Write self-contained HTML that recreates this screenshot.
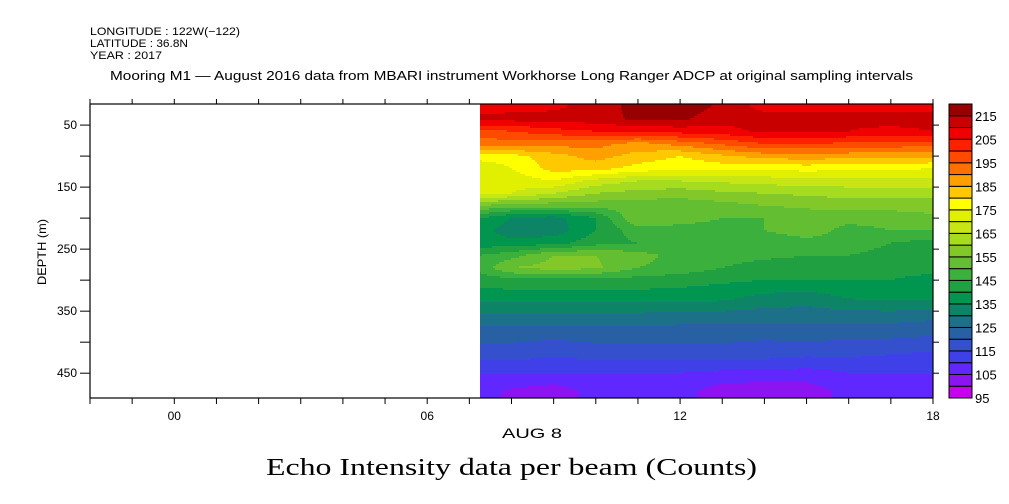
<!DOCTYPE html>
<html><head><meta charset="utf-8"><style>
html,body{margin:0;padding:0;background:#fff;}
body{width:1009px;height:504px;overflow:hidden;}
svg{display:block;}
</style></head><body>
<svg id="chart" width="1009" height="504" viewBox="0 0 1009 504" xmlns="http://www.w3.org/2000/svg" font-family="Liberation Sans, sans-serif">
<g font-size="11" fill="#000">
<text x="90" y="35" textLength="150" lengthAdjust="spacingAndGlyphs">LONGITUDE : 122W(−122)</text>
<text x="90" y="47" textLength="98" lengthAdjust="spacingAndGlyphs">LATITUDE : 36.8N</text>
<text x="90" y="59" textLength="72" lengthAdjust="spacingAndGlyphs">YEAR : 2017</text>
</g>
<text x="110" y="80" font-size="13" textLength="803" lengthAdjust="spacingAndGlyphs">Mooring M1 — August 2016 data from MBARI instrument Workhorse Long Ranger ADCP at original sampling intervals</text>
<g id="field"></g>
<g id="axes" stroke="#000" fill="none"></g>
<g id="labels" font-size="11" fill="#000"></g>
<text transform="translate(46,252) rotate(-90)" font-size="12" text-anchor="middle" textLength="66" lengthAdjust="spacingAndGlyphs">DEPTH (m)</text>
<text x="502" y="438" font-size="14" textLength="60" lengthAdjust="spacingAndGlyphs">AUG  8</text>
<text x="266" y="475" font-size="24" textLength="491" lengthAdjust="spacingAndGlyphs" font-family="Liberation Serif, serif">Echo Intensity data per beam (Counts)</text>
<g id="cbar"></g>
</svg>
<script>
const times = [7.25,8,9,10,11,12,13,14,15,16,17,18];
const depths = [20,40,60,80,100,120,140,160,180,200,220,240,260,280,300,330,360,390,420,450,480];
const values = [
[207,208,209,212,217,218,214,208,208,208,208,208],
[212,212,212,213,216,216,212,213,213,212,213,213],
[198,200,203,205,206,207,208,211,211,210,208,210],
[192,193,192,192,188,192,196,200,200,199,198,198],
[178,178,183,187,183,180,184,187,188,187,187,186],
[170,175,182,182,178,176,177,176,177,176,176,175],
[170,172,175,168,165,165,166,167,168,168,168,168],
[172,170,165,160,158,157,159,160,161,162,162,162],
[155,152,152,152,152,152,153,155,156,157,157,157],
[140,135,133,140,155,152,150,150,152,152,152,154],
[137,132,132,140,148,148,148,150,153,148,150,150],
[137,137,138,143,145,146,146,146,148,148,145,143],
[145,148,155,155,152,148,147,146,145,145,143,143],
[147,155,157,156,150,148,145,143,143,143,142,142],
[142,143,143,143,143,142,141,140,140,140,140,138],
[137,137,137,137,137,137,136,133,132,135,136,136],
[128,128,128,128,128,127,127,127,127,127,127,126],
[122,122,121,122,122,122,122,121,122,121,121,120],
[117,117,116,117,117,117,117,117,116,116,115,114],
[110,110,110,110,110,110,109,109,108,110,110,110],
[107,104,102,107,107,107,102,101,102,107,107,106]
];
const levels = [95,100,105,110,115,120,125,130,135,140,145,150,155,160,165,170,175,180,185,190,195,200,205,210,215,220];
const levelColors = ["#c800f0","#8c14f0","#6028ff","#4040e8","#3450cc","#2860a4","#1c7088","#0d8466","#009650","#20a040","#3cb03c","#64be32","#82c828","#a5dc1e","#c8e614","#e1f000","#ffff00","#ffc800","#ffa000","#ff7000","#ff4a00","#ff2000","#f00000","#c80000","#960000"];
const xTicks = [-2,-1,0,1,2,3,4,5,6,7,8,9,10,11,12,13,14,15,16,17,18];
const xTickLabels = ["00","06","12","18"];
const xLabelHours = [0,6,12,18];
const yTicks = [50,100,150,200,250,300,350,400,450];
const yTickLabels = ["50","150","250","350","450"];
const yLabelDepths = [50,150,250,350,450];
const cbarLabels = ["95","105","115","125","135","145","155","165","175","185","195","205","215"];

const L=90,R=933,T=104,B=398, T0=-2,T1=18, D0=16,D1=490;
const xs=t=>L+(t-T0)*(R-L)/(T1-T0);
const ys=d=>T+(d-D0)*(B-T)/(D1-D0);
const NS="http://www.w3.org/2000/svg";
function mk(tag,attrs,parent){const e=document.createElementNS(NS,tag);for(const k in attrs)e.setAttribute(k,attrs[k]);parent.appendChild(e);return e;}
function seg(a,v){
  if(v<=a[0])return [0,0]; if(v>=a[a.length-1])return [a.length-2,1];
  for(let i=0;i<a.length-1;i++) if(v<=a[i+1]) return [i,(v-a[i])/(a[i+1]-a[i])];
}
function val(t,d){const [i,fx]=seg(times,t);const [j,fy]=seg(depths,d);
  const v00=values[j][i],v01=values[j][i+1],v10=values[j+1][i],v11=values[j+1][i+1];
  return (v00*(1-fx)+v01*fx)*(1-fy)+(v10*(1-fx)+v11*fx)*fy;}
function band(v){let k=Math.floor((v-levels[0])/5);return Math.max(0,Math.min(levelColors.length-1,k));}
const field=document.getElementById('field');
const x0=Math.round(xs(times[0])), x1=Math.round(xs(times[times.length-1]));
for(let y=T;y<B;y+=2){
  const d=D0+(y+1-T)*(D1-D0)/(B-T);
  let start=x0, cur=band(val(T0+(x0+0.5-L)*(T1-T0)/(R-L),d));
  for(let x=x0+1;x<=x1;x++){
    const b= x<x1 ? band(val(T0+(x+0.5-L)*(T1-T0)/(R-L),d)) : -1;
    if(b!==cur){
      const r=mk('rect',{x:start,y:y,width:x-start,height:2,fill:levelColors[cur]},field);
      
      
      start=x;cur=b;
    }
  }
}
const ax=document.getElementById('axes');
mk('rect',{x:L,y:T,width:R-L,height:B-T,'stroke-width':1.2},ax);
xTicks.forEach(t=>{const x=xs(t);
  mk('line',{x1:x,y1:B,x2:x,y2:B+6},ax); mk('line',{x1:x,y1:T,x2:x,y2:T-5},ax);});
yTicks.forEach(d=>{const y=ys(d);
  mk('line',{x1:L,y1:y,x2:L-10,y2:y},ax); mk('line',{x1:R,y1:y,x2:R+6,y2:y},ax);});
const lb=document.getElementById('labels');
xLabelHours.forEach((h,i)=>{const t=mk('text',{x:xs(h),y:420,'text-anchor':'middle','font-size':12},lb);t.textContent=xTickLabels[i];
  
  });
yLabelDepths.forEach((d,i)=>{const t=mk('text',{x:77,y:ys(d)+4,'text-anchor':'end','font-size':12},lb);t.textContent=yTickLabels[i];
  
  });
const cb=document.getElementById('cbar');
const n=levelColors.length, bh=(B-T)/n;
levelColors.forEach((c,i)=>{const r=mk('rect',{x:949,y:B-(i+1)*bh,width:23,height:bh,fill:c,stroke:'#000','stroke-width':1},cb);
  
  });
cbarLabels.forEach((s,i)=>{const y=B-i*2*bh;const t=mk('text',{x:975,y:y+5,'font-size':13},cb);t.textContent=s;
  
  });
</script>
</body></html>
